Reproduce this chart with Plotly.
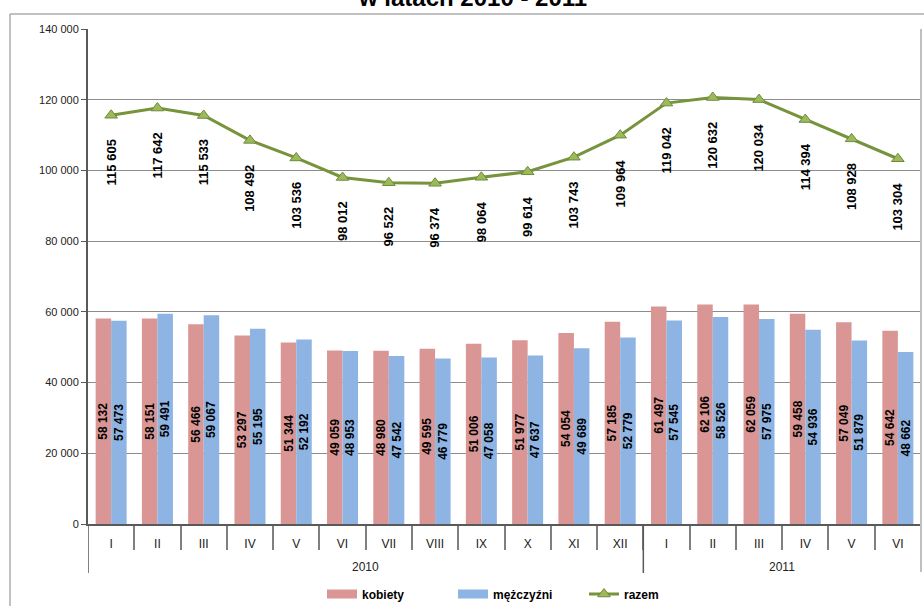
import plotly.graph_objects as go

years = ["2010", "2011"]
year_of_month = ["2010"] * 12 + ["2011"] * 6
months = ["I", "II", "III", "IV", "V", "VI", "VII", "VIII", "IX", "X", "XI", "XII",
          "I", "II", "III", "IV", "V", "VI"]
kobiety = [58132, 58151, 56466, 53297, 51344, 49059, 48980, 49595, 51006, 51977, 54054, 57185,
           61497, 62106, 62059, 59458, 57049, 54642]
mezczyzni = [57473, 59491, 59067, 55195, 52192, 48953, 47542, 46779, 47058, 47637, 49689, 52779,
             57545, 58526, 57975, 54936, 51879, 48662]
razem = [115605, 117642, 115533, 108492, 103536, 98012, 96522, 96374, 98064, 99614, 103743, 109964,
         119042, 120632, 120034, 114394, 108928, 103304]

PINK, BLUE = "#D99694", "#8EB4E3"


def fmt(v):
    return f"{v:,}".replace(",", " ")


W, H = 924, 606
L, R, T, B = 88, 3, 29, 82
pw, ph = W - L - R, H - T - B
FONT = "Arial, Liberation Sans, sans-serif"


def px(x):
    return (x - L) / pw


def py(y):
    return (H - B - y) / ph


idx = list(range(len(months)))
fig = go.Figure()
fig.add_trace(go.Bar(
    x=idx, y=kobiety, name="kobiety", marker=dict(color=PINK, line=dict(width=0)),
    text=[fmt(v) for v in kobiety], textposition="inside", insidetextanchor="middle",
    textangle=-90, constraintext="none", showlegend=False,
    textfont=dict(family=FONT, size=12, color="black", weight="bold"),
))
fig.add_trace(go.Bar(
    x=idx, y=mezczyzni, name="mężczyźni", marker=dict(color=BLUE, line=dict(width=0)),
    text=[fmt(v) for v in mezczyzni], textposition="inside", insidetextanchor="middle",
    textangle=-90, constraintext="none", showlegend=False,
    textfont=dict(family=FONT, size=12, color="black", weight="bold"),
))
# legend swatches for the bar series (wide rectangles as in the original)
fig.add_trace(go.Scatter(x=[None], y=[None], mode="lines", name="kobiety",
                         line=dict(color=PINK, width=9)))
fig.add_trace(go.Scatter(x=[None], y=[None], mode="lines", name="mężczyźni",
                         line=dict(color=BLUE, width=9)))
fig.add_trace(go.Scatter(
    x=idx, y=razem, name="razem", mode="lines+markers",
    line=dict(color="#77933C", width=3),
    marker=dict(symbol="triangle-up", size=11, color="#9BBB59", line=dict(color="#71893F", width=1)),
))

annotations = []
for i, v in enumerate(razem):
    annotations.append(dict(
        x=i, y=v, xref="x", yref="y", text=fmt(v), showarrow=False, textangle=-90,
        yanchor="top", xanchor="center", yshift=-22,
        font=dict(family=FONT, size=13, color="black", weight="bold"),
    ))
# year group labels
for yr in years:
    members = [i for i, y in enumerate(year_of_month) if y == yr]
    annotations.append(dict(
        x=(members[0] + members[-1]) / 2, y=py(567), xref="x", yref="paper", text=yr,
        showarrow=False, xanchor="center", yanchor="middle",
        font=dict(family=FONT, size=12, color="#222"),
    ))
annotations.append(dict(
    x=px(472), y=py(-3), xref="paper", yref="paper", text="w latach 2010 - 2011",
    showarrow=False, xanchor="center", yanchor="middle",
    font=dict(family=FONT, size=24, color="black", weight="bold"),
))

shapes = [
    dict(type="line", xref="paper", yref="paper", x0=px(10), x1=px(930), y0=py(14), y1=py(14),
         line=dict(color="#ADADAD", width=1.5)),
    dict(type="line", xref="paper", yref="paper", x0=px(10), x1=px(10), y0=py(14), y1=py(610),
         line=dict(color="#ADADAD", width=1.5)),
    dict(type="line", xref="paper", yref="paper", x0=1, x1=1, y0=1, y1=py(572),
         line=dict(color="#C0C0C0", width=2)),
]
# year dividers
bounds = [i for i in range(len(months)) if i == 0 or year_of_month[i] != year_of_month[i - 1]]
for b in bounds:
    shapes.append(dict(type="line", xref="x", yref="paper", x0=b - 0.5, x1=b - 0.5,
                       y0=0, y1=py(573), line=dict(color="#595959", width=1.5)))

fig.update_layout(
    width=W, height=H,
    margin=dict(l=L, r=R, t=T, b=B, autoexpand=False),
    paper_bgcolor="white", plot_bgcolor="white",
    separators=", ",
    barmode="group", bargap=0.33, bargroupgap=0,
    font=dict(family=FONT, size=11, color="black"),
    showlegend=True,
    legend=dict(orientation="h", x=px(322), y=py(594), xanchor="left", yanchor="middle",
                font=dict(size=12, weight="bold"), itemwidth=30, traceorder="normal",
                entrywidth=86, entrywidthmode="pixels"),
    annotations=annotations,
    shapes=shapes,
    xaxis=dict(
        range=[-0.5, len(months) - 0.5], automargin=False,
        tickmode="array", tickvals=idx, ticktext=months, ticks="", ticklabelstandoff=8,
        showgrid=False, showline=True, linecolor="#595959", linewidth=2, zeroline=False,
        minor=dict(tickmode="array", tickvals=[i - 0.5 for i in idx[1:]], ticks="outside",
                   ticklen=24, tickcolor="#7F7F7F", tickwidth=1.5, showgrid=False),
        tickfont=dict(size=12, color="#222"),
    ),
    yaxis=dict(
        range=[0, 140000], dtick=20000, tickformat=",d", showgrid=True, gridcolor="#8C8C8C",
        gridwidth=1, showline=True, linecolor="#595959", linewidth=2, ticks="outside",
        ticklen=5, tickcolor="#595959", zeroline=False, automargin=False,
        tickfont=dict(size=11, color="#222"),
    ),
)

fig.write_html("out.html", config={"displayModeBar": False},
               post_script="document.body.style.margin='0';document.body.style.overflow='hidden';")
